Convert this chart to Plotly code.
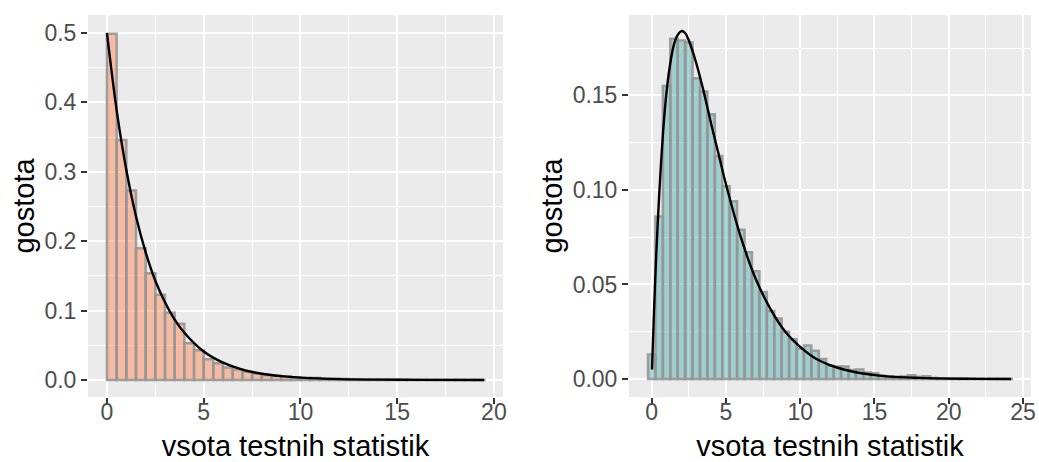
import plotly.graph_objects as go

# ---------------- data ----------------
bin_width = 0.5

left_centers = [0.25 + 0.5 * i for i in range(39)]
left_heights = [0.499, 0.346, 0.273, 0.190, 0.154, 0.123, 0.097, 0.081, 0.053, 0.043,
                0.030, 0.024, 0.018, 0.015, 0.012, 0.009, 0.007, 0.006, 0.005, 0.004,
                0.003, 0.003, 0.002, 0.002, 0.0015, 0.0012, 0.001, 0.0008, 0.0007, 0.0005,
                0.0004, 0.0004, 0.0003, 0.0002, 0.0002, 0.0002, 0.0001, 0.0001, 0.0001]

right_centers = [0.5 * i for i in range(49)]
right_heights = [0.013, 0.086, 0.155, 0.180, 0.179, 0.178, 0.159, 0.152, 0.140, 0.118,
                 0.102, 0.094, 0.079, 0.067, 0.057, 0.046, 0.036, 0.032, 0.025, 0.021,
                 0.016, 0.0177, 0.015, 0.0106, 0.007, 0.0066, 0.0066, 0.0048, 0.005, 0.0035,
                 0.003, 0.0018, 0.0015, 0.0012, 0.0014, 0.002, 0.0012, 0.0015, 0.0006, 0.0004,
                 0.0004, 0.0003, 0.0002, 0.0002, 0.0001, 0.0001, 0.0001, 0.0001, 0.0001]

left_curve_x = [0, 0.5, 1, 1.5, 2, 2.5, 3, 3.5, 4, 5, 6, 7, 8, 9, 10, 12, 14, 16, 19.5]
left_curve_y = [0.5, 0.389, 0.303, 0.236, 0.184, 0.143, 0.112, 0.087, 0.068, 0.041,
                0.025, 0.015, 0.009, 0.0056, 0.0034, 0.0012, 0.0005, 0.0002, 0.0]

right_curve_x = [0.02, 0.15, 0.3, 0.5, 0.75, 1, 1.25, 1.5, 1.75, 2, 2.25, 2.5, 3, 3.5, 4,
                 4.5, 5, 6, 7, 8, 9, 10, 11, 12, 13, 14, 16, 18, 20, 22, 24.2]
right_curve_y = [0.005, 0.035, 0.065, 0.097, 0.129, 0.152, 0.167, 0.177, 0.182, 0.184,
                 0.183, 0.179, 0.167, 0.152, 0.135, 0.119, 0.103, 0.075, 0.053, 0.037,
                 0.025, 0.017, 0.011, 0.0074, 0.0049, 0.0032, 0.0013, 0.0006, 0.0002,
                 0.0001, 0.0]

left_xticks = [0, 5, 10, 15, 20]
left_yticks = [0.0, 0.1, 0.2, 0.3, 0.4, 0.5]
right_xticks = [0, 5, 10, 15, 20, 25]
right_yticks = [0.00, 0.05, 0.10, 0.15]

x_title = "vsota testnih statistik"
y_title = "gostota"

# ---------------- styling ----------------
FONT = "Liberation Sans, Arial, sans-serif"
TICK_SIZE = 23
TITLE_SIZE = 29
left_fill = "rgba(255,140,90,0.5)"
right_fill = "rgba(85,175,175,0.5)"
outline = "rgba(150,150,150,0.9)"

fig = go.Figure()
fig.add_trace(go.Bar(x=left_centers, y=left_heights, width=bin_width,
                     marker=dict(color=left_fill, line=dict(color=outline, width=2.5)),
                     xaxis="x", yaxis="y", showlegend=False, hoverinfo="skip"))
fig.add_trace(go.Scatter(x=left_curve_x, y=left_curve_y, mode="lines",
                         line=dict(color="black", width=2.4, shape="spline", smoothing=0.8),
                         xaxis="x", yaxis="y", showlegend=False))
fig.add_trace(go.Bar(x=right_centers, y=right_heights, width=bin_width,
                     marker=dict(color=right_fill, line=dict(color=outline, width=2.5)),
                     xaxis="x2", yaxis="y2", showlegend=False, hoverinfo="skip"))
fig.add_trace(go.Scatter(x=right_curve_x, y=right_curve_y, mode="lines",
                         line=dict(color="black", width=2.4, shape="spline", smoothing=0.8),
                         xaxis="x2", yaxis="y2", showlegend=False))

W, H = 1039, 462
ydom = [1 - 397 / H, 1 - 15 / H]

common = dict(showline=False, zeroline=False, ticks="outside", ticklen=6, tickwidth=2,
              tickcolor="#333333", showgrid=True, gridcolor="white", gridwidth=2,
              tickfont=dict(family=FONT, size=TICK_SIZE, color="#4D4D4D"),
              automargin=False, fixedrange=True)
title_font = dict(family=FONT, size=TITLE_SIZE, color="black")

fig.update_layout(
    width=W, height=H,
    margin=dict(l=0, r=0, t=0, b=0),
    paper_bgcolor="white", plot_bgcolor="#EBEBEB",
    barmode="overlay",
    font=dict(family=FONT),
    xaxis=dict(domain=[88 / W, 503 / W], range=[-0.98, 20.47], anchor="y",
               tickvals=left_xticks, ticktext=[str(v) for v in left_xticks],
               ticklabelstandoff=-12,
               minor=dict(tickvals=[2.5, 7.5, 12.5, 17.5], showgrid=True, gridcolor="white", gridwidth=1),
               title=dict(text=x_title, font=title_font, standoff=18),
               **common),
    yaxis=dict(domain=ydom, range=[-0.0245, 0.526], anchor="x",
               tickvals=left_yticks, ticktext=[f"{v:.1f}" for v in left_yticks],
               minor=dict(tickvals=[0.05, 0.15, 0.25, 0.35, 0.45], showgrid=True, gridcolor="white", gridwidth=1),
               title=dict(text=y_title, font=title_font, standoff=1),
               **common),
    xaxis2=dict(domain=[629 / W, 1031 / W], range=[-1.53, 25.54], anchor="y2",
                tickvals=right_xticks, ticktext=[str(v) for v in right_xticks],
                ticklabelstandoff=-12,
                minor=dict(tickvals=[2.5, 7.5, 12.5, 17.5, 22.5], showgrid=True, gridcolor="white", gridwidth=1),
                title=dict(text=x_title, font=title_font, standoff=18),
                **common),
    yaxis2=dict(domain=ydom, range=[-0.0095, 0.1925], anchor="x2",
                tickvals=right_yticks, ticktext=[f"{v:.2f}" for v in right_yticks],
                minor=dict(tickvals=[0.025, 0.075, 0.125, 0.175], showgrid=True, gridcolor="white", gridwidth=1),
                title=dict(text=y_title, font=title_font, standoff=1),
                **common),
)

fig.write_html("out.html")
